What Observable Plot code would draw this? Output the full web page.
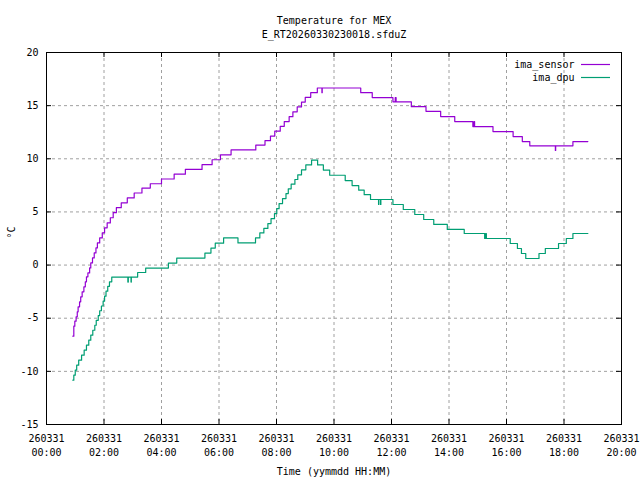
<!DOCTYPE html>
<html>
<head>
<meta charset="utf-8">
<script src="https://cdn.jsdelivr.net/npm/d3@7"></script>
<script src="https://cdn.jsdelivr.net/npm/@observablehq/plot@0.6"></script>
<style>
  html, body { margin: 0; padding: 0; background: #fff; }
</style>
</head>
<body>
<div id="chart"></div>
<script>
// ---- data (hours since 260331 00:00, °C) ----
const seriesNames = ["ima_sensor", "ima_dpu"];
const seriesColors = ["#9400D3", "#009E73"];

const sensorT = [0.916,0.95,0.985,1.03,1.07,1.10,1.15,1.19,1.24,1.30,1.35,1.39,1.44,1.50,1.54,1.60,1.66,1.72,1.77,1.85,1.94,2.02,2.11,2.22,2.32,2.43,2.60,2.81,3.05,3.32,3.61,4.00,4.44,4.83,5.41,5.76,6.05,6.42,7.28,7.60,7.79,7.94,8.13,8.27,8.44,8.57,8.72,8.87,9.00,9.19,9.42,9.58,9.59,10.93,11.33,12.05,12.13,12.16,12.69,13.20,13.71,14.20,14.83,14.87,14.89,15.53,16.23,16.55,16.81,17.70,17.71,18.31,18.83];
const sensorV = [-6.69,-5.75,-5.28,-4.87,-4.40,-3.93,-3.46,-2.99,-2.52,-2.05,-1.58,-1.11,-0.74,-0.27,0.20,0.67,1.14,1.61,2.08,2.55,3.02,3.50,3.97,4.45,4.93,5.40,5.86,6.32,6.78,7.24,7.65,8.10,8.55,9.00,9.45,9.91,10.37,10.83,11.29,11.70,12.14,12.60,13.05,13.50,13.96,14.42,14.88,15.34,15.78,16.22,16.66,16.22,16.66,16.22,15.76,15.36,15.76,15.36,14.90,14.47,13.97,13.50,13.03,13.50,13.03,12.56,12.09,11.62,11.22,10.78,11.22,11.62,11.62];

const dpuT = [0.916,0.95,1.00,1.05,1.12,1.22,1.31,1.39,1.47,1.54,1.61,1.68,1.73,1.80,1.85,1.91,1.97,2.02,2.07,2.13,2.19,2.27,2.83,2.845,2.94,2.95,3.17,3.45,4.24,4.53,5.51,5.72,5.87,6.16,6.66,7.27,7.42,7.56,7.70,7.81,7.93,8.01,8.09,8.21,8.33,8.41,8.51,8.64,8.74,8.87,9.02,9.22,9.43,9.63,9.85,10.39,10.63,10.86,11.05,11.27,11.55,11.56,11.62,11.63,12.05,12.41,12.81,13.12,13.47,13.94,14.53,15.24,15.27,15.30,16.13,16.38,16.52,16.67,17.13,17.35,17.81,18.08,18.31,18.83];
const dpuV = [-10.83,-10.36,-9.89,-9.42,-8.95,-8.48,-8.01,-7.54,-7.07,-6.60,-6.13,-5.66,-5.20,-4.75,-4.30,-3.85,-3.40,-2.93,-2.46,-2.00,-1.58,-1.13,-1.60,-1.13,-1.60,-1.13,-0.70,-0.28,0.19,0.66,1.13,1.60,2.06,2.55,2.08,2.55,3.02,3.45,3.90,4.37,4.84,5.31,5.79,6.26,6.73,7.17,7.61,8.05,8.49,8.96,9.42,9.88,9.42,8.94,8.45,7.95,7.48,7.05,6.62,6.17,5.70,6.17,5.70,6.17,5.70,5.23,4.76,4.29,3.82,3.35,2.97,2.50,2.97,2.50,2.03,1.56,1.09,0.62,1.09,1.56,2.03,2.50,2.97,2.97];

const xTicks = [0,2,4,6,8,10,12,14,16,18,20];
const xDateLabels = ["260331","260331","260331","260331","260331","260331","260331","260331","260331","260331","260331"];
const xTimeLabels = ["00:00","02:00","04:00","06:00","08:00","10:00","12:00","14:00","16:00","18:00","20:00"];
const yTicks = [-15,-10,-5,0,5,10,15,20];

const titleText = "Temperature for MEX";
const subtitleText = "E_RT20260330230018.sfduZ";
const xLabel = "Time (yymmdd HH:MM)";
const yLabel = "°C";

// ---- build ----
const sensor = sensorT.map((t, i) => ({t, v: sensorV[i]}));
const dpu = dpuT.map((t, i) => ({t, v: dpuV[i]}));

const W = 640, H = 480;
const mL = 46, mR = 19, mT = 52, mB = 56;
const plotH = H - mT - mB, plotW = W - mL - mR;
const tk = 5;
const font = "DejaVu Sans Mono";
const fs = 10;

function legendLines() {
  const ns = "http://www.w3.org/2000/svg";
  const g = document.createElementNS(ns, "g");
  seriesColors.forEach((c, i) => {
    const l = document.createElementNS(ns, "line");
    const y = mT + 12 + i * 13 + 0.5;
    l.setAttribute("x1", W - mR - 40);
    l.setAttribute("x2", W - mR - 11);
    l.setAttribute("y1", y);
    l.setAttribute("y2", y);
    l.setAttribute("stroke", c);
    l.setAttribute("stroke-width", 1.2);
    g.appendChild(l);
  });
  return g;
}

const txt = {fontFamily: font, fontSize: fs, fill: "black", lineAnchor: "middle"};

const chart = Plot.plot({
  width: W,
  height: H,
  marginLeft: mL,
  marginRight: mR,
  marginTop: mT,
  marginBottom: mB,
  style: {fontFamily: font, fontSize: fs + "px", background: "white", color: "black"},
  x: {domain: [0, 20], axis: null},
  y: {domain: [-15, 20], axis: null},
  marks: [
    Plot.gridX(xTicks.slice(1, -1), {stroke: "#a0a0a0", strokeOpacity: 1, strokeDasharray: "3,3"}),
    Plot.gridY(yTicks.slice(1, -1), {stroke: "#a0a0a0", strokeOpacity: 1, strokeDasharray: "3,3"}),
    Plot.line(sensor, {x: "t", y: "v", stroke: seriesColors[0], strokeWidth: 1.2, curve: "step-after"}),
    Plot.line(dpu, {x: "t", y: "v", stroke: seriesColors[1], strokeWidth: 1.2, curve: "step-after"}),
    Plot.frame({stroke: "black"}),
    // inward ticks (mirrored)
    Plot.tickX(xTicks, {x: d => d, stroke: "black", insetTop: plotH - tk}),
    Plot.tickX(xTicks, {x: d => d, stroke: "black", insetBottom: plotH - tk}),
    Plot.tickY(yTicks, {y: d => d, stroke: "black", insetRight: plotW - tk}),
    Plot.tickY(yTicks, {y: d => d, stroke: "black", insetLeft: plotW - tk}),
    // y tick labels
    Plot.text(yTicks, {y: d => d, text: d => String(d), frameAnchor: "left", textAnchor: "end", dx: -8, ...txt}),
    // x tick labels (two lines)
    Plot.text(xTicks, {x: d => d, text: (d, i) => xDateLabels[i], frameAnchor: "bottom", dy: 14, ...txt}),
    Plot.text(xTicks, {x: d => d, text: (d, i) => xTimeLabels[i], frameAnchor: "bottom", dy: 28, ...txt}),
    // axis labels
    Plot.text([xLabel], {text: d => d, frameAnchor: "bottom", dy: 47, ...txt}),
    Plot.text([yLabel], {text: d => d, frameAnchor: "left", dx: -35, rotate: -90, ...txt}),
    // title
    Plot.text([titleText], {text: d => d, frameAnchor: "top", dy: -32, ...txt}),
    Plot.text([subtitleText], {text: d => d, frameAnchor: "top", dy: -18, ...txt}),
    // legend
    Plot.text([seriesNames[0]], {text: d => d, frameAnchor: "top-right", textAnchor: "end", dx: -47, dy: 12, ...txt}),
    Plot.text([seriesNames[1]], {text: d => d, frameAnchor: "top-right", textAnchor: "end", dx: -47, dy: 25, ...txt}),
    legendLines
  ]
});
document.getElementById("chart").appendChild(chart);
</script>
</body>
</html>
